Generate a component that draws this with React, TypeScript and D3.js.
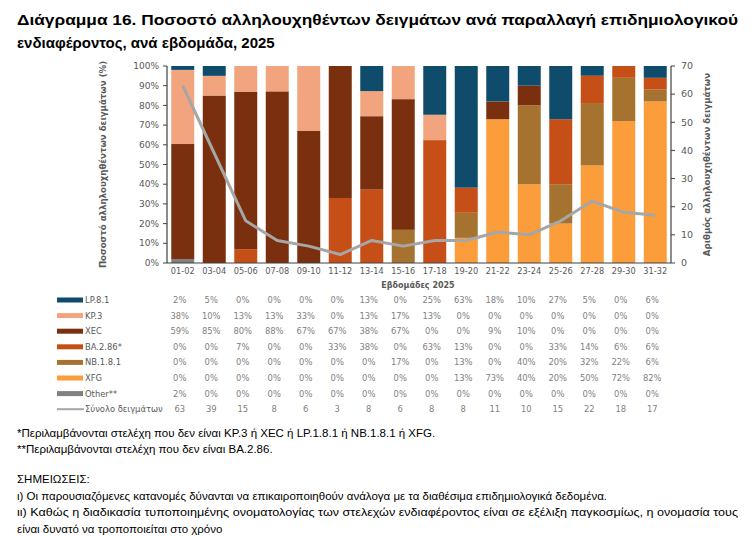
import * as d3 from "d3";

const weeks = ["01-02", "03-04", "05-06", "07-08", "09-10", "11-12", "13-14", "15-16", "17-18", "19-20", "21-22", "23-24", "25-26", "27-28", "29-30", "31-32"];
const lp81 = [2, 5, 0, 0, 0, 0, 13, 0, 25, 63, 18, 10, 27, 5, 0, 6];
const kp3 = [38, 10, 13, 13, 33, 0, 13, 17, 13, 0, 0, 0, 0, 0, 0, 0];
const xec = [59, 85, 80, 88, 67, 67, 38, 67, 0, 0, 9, 10, 0, 0, 0, 0];
const ba286 = [0, 0, 7, 0, 0, 33, 38, 0, 63, 13, 0, 0, 33, 14, 6, 6];
const nb181 = [0, 0, 0, 0, 0, 0, 0, 17, 0, 13, 0, 40, 20, 32, 22, 6];
const xfg = [0, 0, 0, 0, 0, 0, 0, 0, 0, 13, 73, 40, 20, 50, 72, 82];
const other = [2, 0, 0, 0, 0, 0, 0, 0, 0, 0, 0, 0, 0, 0, 0, 0];
const totals = [63, 39, 15, 8, 6, 3, 8, 6, 8, 8, 11, 10, 15, 22, 18, 17];

const leftTicks = [0, 0.1, 0.2, 0.3, 0.4, 0.5, 0.6, 0.7, 0.8, 0.9, 1];
const rightTicks = [0, 10, 20, 30, 40, 50, 60, 70];

const series = [
  { key: "lp81", label: "LP.8.1", values: lp81, color: "#0f4c6b" },
  { key: "kp3", label: "KP.3", values: kp3, color: "#f2a47e" },
  { key: "xec", label: "XEC", values: xec, color: "#7a300e" },
  { key: "ba286", label: "BA.2.86*", values: ba286, color: "#c64f17" },
  { key: "nb181", label: "NB.1.8.1", values: nb181, color: "#a6722f" },
  { key: "xfg", label: "XFG", values: xfg, color: "#fb9d3b" },
  { key: "other", label: "Other**", values: other, color: "#808080" },
];

const stackOrder = ["other", "xfg", "nb181", "ba286", "xec", "kp3", "lp81"];

const W = 756;
const H = 536;
const plot = { left: 167, right: 671, top: 66, bottom: 263 };

const axisFont = "'DejaVu Sans', sans-serif";
const noteFont = "'Liberation Sans', Arial, sans-serif";

export default function App() {
  const x = d3.scaleBand().domain(weeks).range([plot.left, plot.right]).paddingInner(0.27).paddingOuter(0.135);
  const yPct = d3.scaleLinear().domain([0, 1]).range([plot.bottom, plot.top]);
  const yCount = d3.scaleLinear().domain([0, 70]).range([plot.bottom, plot.top]);

  const rows = weeks.map((w, i) => {
    const r: any = { week: w };
    series.forEach((s) => (r[s.key] = s.values[i]));
    return r;
  });
  const stacked = d3.stack().keys(stackOrder).offset(d3.stackOffsetExpand)(rows);
  const colorOf = (k: string) => series.find((s) => s.key === k)!.color;

  const cx = (w: string) => (x(w) as number) + x.bandwidth() / 2;
  const line = d3
    .line<number>()
    .x((_, i) => cx(weeks[i]))
    .y((d) => yCount(d))
    .curve(d3.curveLinear);

  const rowY0 = 300;
  const rowStep = 15.6;

  return (
    <svg width={W} height={H} style={{ position: "absolute", left: 0, top: 0, background: "#fff" }}>
      {/* title */}
      <text x={17} y={25} fontFamily={noteFont} fontWeight="bold" fontSize={15} fill="#000" textLength={721} lengthAdjust="spacingAndGlyphs">
        Διάγραμμα 16. Ποσοστό αλληλουχηθέντων δειγμάτων ανά παραλλαγή επιδημιολογικού
      </text>
      <text x={17} y={48} fontFamily={noteFont} fontWeight="bold" fontSize={15} fill="#000">
        ενδιαφέροντος, ανά εβδομάδα, 2025
      </text>

      {/* stacked bars */}
      {stacked.map((layer) => (
        <g key={layer.key} fill={colorOf(layer.key)}>
          {layer.map((d, i) => (
            <rect key={i} x={x(weeks[i])} width={x.bandwidth()} y={yPct(d[1])} height={Math.max(0, yPct(d[0]) - yPct(d[1]))} />
          ))}
        </g>
      ))}

      {/* total samples line */}
      <path d={line(totals) || ""} fill="none" stroke="#a6a6a6" strokeWidth={3} strokeLinejoin="round" />

      {/* left axis */}
      <line x1={plot.left} x2={plot.left} y1={plot.top} y2={plot.bottom} stroke="#404040" strokeWidth={1.2} />
      {leftTicks.map((t) => (
        <g key={t}>
          <line x1={plot.left - 4} x2={plot.left} y1={yPct(t)} y2={yPct(t)} stroke="#404040" />
          <text x={plot.left - 8} y={yPct(t)} dy="0.35em" textAnchor="end" fontFamily={axisFont} fontSize={9} fill="#595959">
            {d3.format(".0%")(t)}
          </text>
        </g>
      ))}
      <text transform={`translate(106,${(plot.top + plot.bottom) / 2}) rotate(-90)`} textAnchor="middle" fontFamily={axisFont} fontWeight="bold" fontSize={8.6} fill="#595959">
        Ποσοστό αλληλουχηθέντων δειγμάτων (%)
      </text>

      {/* right axis */}
      <line x1={plot.right} x2={plot.right} y1={plot.top} y2={plot.bottom} stroke="#404040" strokeWidth={1.2} />
      {rightTicks.map((t) => (
        <g key={t}>
          <line x1={plot.right} x2={plot.right + 4} y1={yCount(t)} y2={yCount(t)} stroke="#404040" />
          <text x={plot.right + 10} y={yCount(t)} dy="0.35em" fontFamily={axisFont} fontSize={9.5} fill="#595959">
            {t}
          </text>
        </g>
      ))}
      <text transform={`translate(710,${(plot.top + plot.bottom) / 2}) rotate(-90)`} textAnchor="middle" fontFamily={axisFont} fontWeight="bold" fontSize={8.6} fill="#595959">
        Αριθμός αλληλουχηθέντων δειγμάτων
      </text>

      {/* bottom axis */}
      <line x1={plot.left} x2={plot.right} y1={plot.bottom} y2={plot.bottom} stroke="#404040" strokeWidth={1.2} />
      {weeks.map((w) => (
        <text key={w} x={cx(w)} y={plot.bottom + 11} textAnchor="middle" fontFamily={axisFont} fontSize={8.2} fill="#595959">
          {w}
        </text>
      ))}
      <text x={418} y={288} textAnchor="middle" fontFamily={axisFont} fontWeight="bold" fontSize={8} fill="#595959">
        Εβδομάδες 2025
      </text>

      {/* data table with legend keys */}
      {series.map((s, r) => {
        const yy = rowY0 + r * rowStep;
        return (
          <g key={s.key}>
            <rect x={57} y={yy - 2.5} width={26} height={5} fill={s.color} />
            <text x={85} y={yy} dy="0.35em" fontFamily={axisFont} fontSize={8.4} fill="#595959">
              {s.label}
            </text>
            {s.values.map((v, i) => (
              <text key={i} x={cx(weeks[i]) - 3} y={yy} dy="0.35em" textAnchor="middle" fontFamily={axisFont} fontSize={8.4} fill="#7f7f7f">
                {v}%
              </text>
            ))}
          </g>
        );
      })}
      <g>
        <line x1={57} x2={84} y1={rowY0 + 7 * rowStep} y2={rowY0 + 7 * rowStep} stroke="#a6a6a6" strokeWidth={2} />
        <text x={85} y={rowY0 + 7 * rowStep} dy="0.35em" fontFamily={axisFont} fontSize={8.4} fill="#595959">
          Σύνολο δειγμάτων
        </text>
        {totals.map((v, i) => (
          <text key={i} x={cx(weeks[i]) - 3} y={rowY0 + 7 * rowStep} dy="0.35em" textAnchor="middle" fontFamily={axisFont} fontSize={8.4} fill="#7f7f7f">
            {v}
          </text>
        ))}
      </g>

      {/* notes */}
      <g fontFamily={noteFont} fontSize={11.5} fill="#000">
        <text x={17} y={437}>*Περιλαμβάνονται στελέχη που δεν είναι KP.3 ή XEC ή LP.1.8.1 ή NB.1.8.1 ή XFG.</text>
        <text x={17} y={453}>**Περιλαμβάνονται στελέχη που δεν είναι BA.2.86.</text>
        <text x={17} y={483}>ΣΗΜΕΙΩΣΕΙΣ:</text>
        <text x={17} y={500}>ι) Οι παρουσιαζόμενες κατανομές δύνανται να επικαιροποιηθούν ανάλογα με τα διαθέσιμα επιδημιολογικά δεδομένα.</text>
        <text x={17} y={516} textLength={721} lengthAdjust="spacingAndGlyphs">
          ιι) Καθώς η διαδικασία τυποποιημένης ονοματολογίας των στελεχών ενδιαφέροντος είναι σε εξέλιξη παγκοσμίως, η ονομασία τους
        </text>
        <text x={17} y={533}>είναι δυνατό να τροποποιείται στο χρόνο</text>
      </g>
    </svg>
  );
}
